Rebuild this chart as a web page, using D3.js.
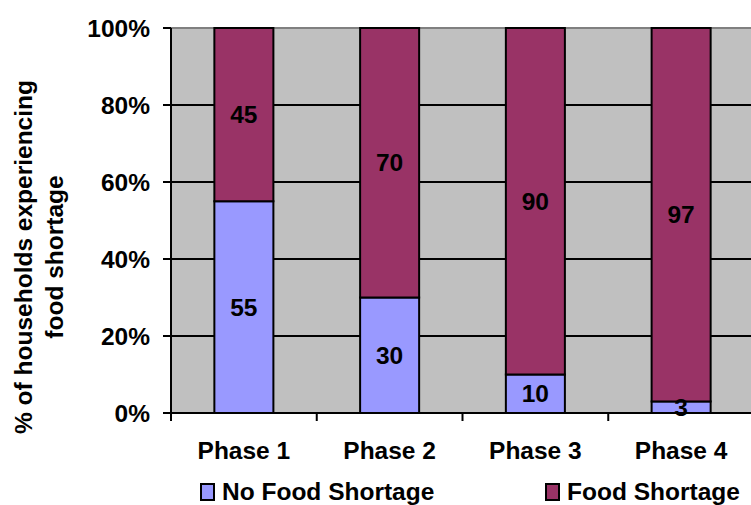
<!DOCTYPE html>
<html>
<head>
<meta charset="utf-8">
<script src="https://cdn.jsdelivr.net/npm/d3@7"></script>
<style>
  html, body { margin: 0; padding: 0; background: #fff; }
  svg { display: block; font-family: "Liberation Sans", Arial, sans-serif; font-weight: bold; }
</style>
</head>
<body>
<svg id="chart" width="751" height="505"></svg>
<script>
// Household food shortage by phase (percent of households)
const phases = ["Phase 1", "Phase 2", "Phase 3", "Phase 4"];
const noShortage = [55, 30, 10, 3];
const shortage = [45, 70, 90, 97];
const yTicks = [0, 20, 40, 60, 80, 100];
const seriesNames = ["No Food Shortage", "Food Shortage"];
const seriesColors = ["#9999FF", "#993366"];

const FS = 24.5;
const svg = d3.select("#chart");
const plot = { left: 171, top: 28, right: 754, bottom: 413 };

const x = d3.scaleBand()
  .domain(phases)
  .range([plot.left, plot.right])
  .paddingInner(0.595)
  .paddingOuter(0.2975);

const y = d3.scaleLinear().domain([0, 100]).range([plot.bottom, plot.top]);

// plot background
svg.append("rect")
  .attr("x", plot.left).attr("y", plot.top)
  .attr("width", plot.right - plot.left).attr("height", plot.bottom - plot.top)
  .attr("fill", "#C0C0C0");

// horizontal gridlines
svg.append("g").selectAll("line")
  .data(yTicks.filter(t => t > 0 && t < 100))
  .join("line")
  .attr("x1", plot.left).attr("x2", plot.right)
  .attr("y1", d => y(d)).attr("y2", d => y(d))
  .attr("stroke", "#000").attr("stroke-width", 2);

// top border
svg.append("line")
  .attr("x1", plot.left).attr("x2", plot.right)
  .attr("y1", y(100)).attr("y2", y(100))
  .attr("stroke", "#808080").attr("stroke-width", 2);

// stacked data
const rows = phases.map((p, i) => ({ phase: p, values: [noShortage[i], shortage[i]] }));
const stacked = [0, 1].map(s => rows.map(r => {
  const y0 = s === 0 ? 0 : r.values[0];
  return { phase: r.phase, y0: y0, y1: y0 + r.values[s], v: r.values[s] };
}));

const bars = svg.append("g");
stacked.forEach((series, s) => {
  bars.append("g").selectAll("rect")
    .data(series)
    .join("rect")
    .attr("x", d => x(d.phase))
    .attr("width", x.bandwidth())
    .attr("y", d => y(d.y1))
    .attr("height", d => y(d.y0) - y(d.y1))
    .attr("fill", seriesColors[s])
    .attr("stroke", "#000").attr("stroke-width", 2);
});

// value labels
stacked.forEach(series => {
  svg.append("g").selectAll("text")
    .data(series)
    .join("text")
    .attr("x", d => x(d.phase) + x.bandwidth() / 2)
    .attr("y", d => y((d.y0 + d.y1) / 2))
    .attr("dy", "0.35em")
    .attr("text-anchor", "middle")
    .attr("font-size", FS)
    .attr("fill", "#000")
    .text(d => d.v);
});

// y axis
const yAxis = svg.append("g");
yAxis.append("line")
  .attr("x1", plot.left).attr("x2", plot.left)
  .attr("y1", plot.top).attr("y2", plot.bottom)
  .attr("stroke", "#000").attr("stroke-width", 2);
yAxis.selectAll("line.tick")
  .data(yTicks)
  .join("line").attr("class", "tick")
  .attr("x1", plot.left - 8).attr("x2", plot.left)
  .attr("y1", d => y(d)).attr("y2", d => y(d))
  .attr("stroke", "#000").attr("stroke-width", 2);
yAxis.selectAll("text")
  .data(yTicks)
  .join("text")
  .attr("x", 150)
  .attr("y", d => y(d))
  .attr("dy", "0.35em")
  .attr("text-anchor", "end")
  .attr("font-size", FS)
  .text(d => d + "%");

// x axis
const xAxis = svg.append("g");
xAxis.append("line")
  .attr("x1", plot.left).attr("x2", plot.right)
  .attr("y1", plot.bottom).attr("y2", plot.bottom)
  .attr("stroke", "#000").attr("stroke-width", 2);
const step = x.step();
const boundaries = phases.map(p => x(p) + x.bandwidth() / 2 - step / 2);
xAxis.selectAll("line.tick")
  .data(boundaries)
  .join("line").attr("class", "tick")
  .attr("x1", d => d).attr("x2", d => d)
  .attr("y1", plot.bottom).attr("y2", plot.bottom + 8)
  .attr("stroke", "#000").attr("stroke-width", 2);
xAxis.selectAll("text")
  .data(phases)
  .join("text")
  .attr("x", d => x(d) + x.bandwidth() / 2)
  .attr("y", 459)
  .attr("text-anchor", "middle")
  .attr("font-size", FS)
  .text(d => d);

// y axis title
const title = svg.append("text")
  .attr("transform", "translate(32,257) rotate(-90)")
  .attr("text-anchor", "middle")
  .attr("font-size", FS);
title.append("tspan").attr("x", 0).attr("y", 0).text("% of households experiencing");
title.append("tspan").attr("x", 0).attr("y", 31).text("food shortage");

// legend
const legendX = [201, 546];
const legend = svg.append("g");
seriesNames.forEach((name, i) => {
  legend.append("rect")
    .attr("x", legendX[i]).attr("y", 484)
    .attr("width", 13).attr("height", 16)
    .attr("fill", seriesColors[i])
    .attr("stroke", "#000").attr("stroke-width", 2);
  legend.append("text")
    .attr("x", legendX[i] + 21).attr("y", 500)
    .attr("font-size", FS)
    .text(name);
});
</script>
</body>
</html>
